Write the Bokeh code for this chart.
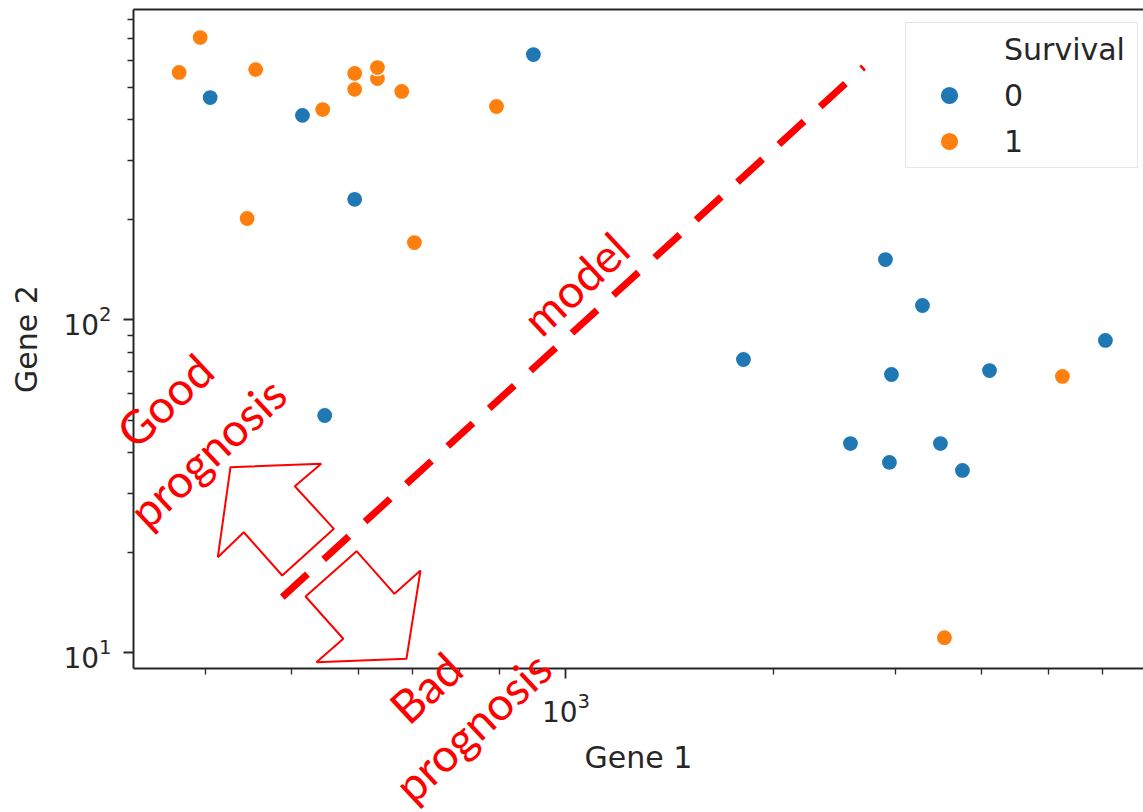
from bokeh.plotting import figure
from bokeh.models import (FixedTicker, LogAxis, Legend, LegendItem, Label,
                          PolyAnnotation, Range1d)
from bokeh.embed import file_html
from bokeh.resources import INLINE

# Expression of two genes per patient, split by survival outcome
gene1_surv0 = [305, 415, 897, 494, 447, 2904, 3286, 6051, 1808, 2963, 4110,
               2584, 2943, 3489, 3755]
gene2_surv0 = [465, 411, 626, 230, 51.6, 151.7, 110.4, 86.7, 76.0, 68.5, 70.4,
               42.5, 37.3, 42.5, 35.3]

gene1_surv1 = [275, 295, 355, 444, 494, 494, 533, 533, 578, 793, 345, 603,
               5242, 3536]
gene2_surv1 = [553, 704, 564, 428, 549, 492, 530, 572, 485, 437, 201.5, 170.6,
               67.6, 11.1]

survival_labels = ["0", "1"]
legend_title = "Survival"

# Decision boundary drawn by hand ("model")
model_gene1 = [388, 2700]
model_gene2 = [14.7, 574]

# Block arrows (Gene 1, Gene 2 vertices)
good_arrow_g1 = [326.4, 441.8, 404.6, 460.9, 387.9, 341.2, 312.9]
good_arrow_g2 = [36.1, 36.96, 31.64, 23.57, 17.07, 23.02, 19.37]
bad_arrow_g1 = [497.2, 564.1, 615.3, 587.2, 434.9, 475.6, 419.3]
bad_arrow_g2 = [20.19, 15.04, 17.66, 9.59, 9.37, 11.02, 14.76]

# Hand-written notes: (text, gene1, gene2)
notes = [("Good", 262, 57.3), ("prognosis", 302, 40.0),
         ("model", 1032, 128.5),
         ("Bad", 626, 7.87), ("prognosis", 732, 6.01)]

# Axes box (data limits) and the wider canvas extent so that the notes
# outside the axes box are not clipped
x_box = (236.2, 6871)
y_box = (9.003, 855)
x_canvas = (151.5, 6871)
y_canvas = (3.315, 909.6)

x_major = [1000]
x_minor = [300, 400, 500, 600, 700, 800, 900, 2000, 3000, 4000, 5000, 6000]
y_major = [10, 100]
y_minor = [20, 30, 40, 50, 60, 70, 80, 90, 200, 300, 400, 500, 600, 700, 800]

BLUE = "#1f77b4"
ORANGE = "#ff7f0e"
INK = "#262626"
RED = "#ff0000"

p = figure(width=1143, height=812, x_axis_type="log", y_axis_type="log",
           x_range=Range1d(*x_canvas), y_range=Range1d(*y_canvas),
           output_backend="svg", toolbar_location=None,
           min_border_left=0, min_border_right=0, min_border_top=0,
           min_border_bottom=0)
p.outline_line_color = None
p.xgrid.grid_line_color = None
p.ygrid.grid_line_color = None

xa = p.below[0]
ya = p.left[0]
xa.fixed_location = y_box[0]
ya.fixed_location = x_box[0]
xa.bounds = x_box
ya.bounds = y_box
xa.ticker = FixedTicker(ticks=x_major, minor_ticks=x_minor)
ya.ticker = FixedTicker(ticks=y_major, minor_ticks=y_minor)
xa.axis_label = "Gene 1"
ya.axis_label = "Gene 2"
for ax in (xa, ya):
    ax.axis_line_width = 2
    ax.axis_line_color = INK
    ax.major_tick_line_color = INK
    ax.minor_tick_line_color = INK
    ax.major_tick_line_width = 1.8
    ax.minor_tick_line_width = 1.3
    ax.major_tick_out = 10
    ax.major_tick_in = 0
    ax.minor_tick_out = 6
    ax.minor_tick_in = 0
    ax.major_label_text_font = "DejaVu Sans"
    ax.major_label_text_font_size = "28px"
    ax.major_label_text_color = INK
    ax.axis_label_text_font = "DejaVu Sans"
    ax.axis_label_text_font_size = "30px"
    ax.axis_label_text_font_style = "normal"
    ax.axis_label_text_color = INK
xa.major_label_standoff = 14
xa.axis_label_standoff = 14
ya.major_label_standoff = 12
ya.axis_label_standoff = 16

# top spine
top = LogAxis(ticker=FixedTicker(ticks=[]), fixed_location=y_box[1],
              bounds=x_box, axis_line_width=2, axis_line_color=INK,
              major_tick_out=0, major_tick_in=0, minor_tick_out=0,
              minor_tick_in=0, major_label_standoff=0,
              major_label_text_font_size="0px")
p.add_layout(top, "above")

r0 = p.scatter(gene1_surv0, gene2_surv0, size=16, fill_color=BLUE,
               line_color="white", line_width=1.2)
r1 = p.scatter(gene1_surv1, gene2_surv1, size=16, fill_color=ORANGE,
               line_color="white", line_width=1.2)
r_title = p.scatter(x=[], y=[], fill_alpha=0, line_alpha=0)

legend = Legend(items=[LegendItem(label=legend_title, renderers=[r_title]),
                       LegendItem(label=survival_labels[0], renderers=[r0]),
                       LegendItem(label=survival_labels[1], renderers=[r1])],
                location=(905, 644), margin=0, padding=3, spacing=0,
                glyph_height=46, glyph_width=80, label_standoff=15,
                label_height=46, label_width=130,
                label_text_font="DejaVu Sans", label_text_font_size="30px",
                label_text_color=INK, border_line_color="#cccccc",
                border_line_width=1.5, background_fill_alpha=0.8)
p.add_layout(legend, "center")

p.line(model_gene1, model_gene2, line_color=RED, line_width=7,
       line_dash="34 22")

for xs, ys in ((good_arrow_g1, good_arrow_g2), (bad_arrow_g1, bad_arrow_g2)):
    p.add_layout(PolyAnnotation(xs=xs, ys=ys, fill_alpha=0, line_color=RED,
                                line_alpha=1.0, line_width=2))

for txt, gx, gy in notes:
    p.add_layout(Label(x=gx, y=gy, text=txt, angle=43, angle_units="deg",
                       text_align="center", text_baseline="middle",
                       text_font="Lato", text_font_size="46px",
                       text_color=RED))

open("out.html", "w").write(file_html(p, INLINE))
